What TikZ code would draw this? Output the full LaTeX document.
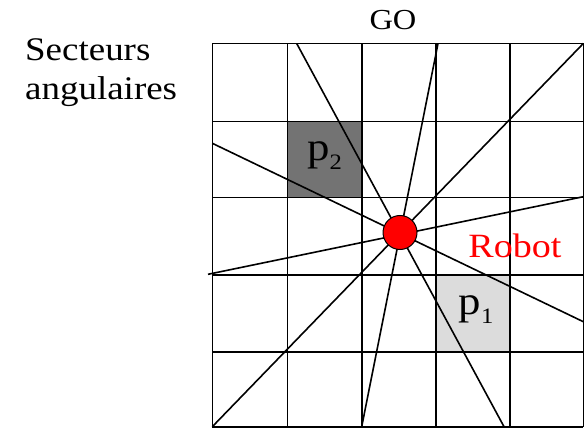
\documentclass[tikz,border=0pt]{standalone}
\usepackage{fontspec}
\setmainfont{LiberationSerif}[Extension=.ttf, UprightFont=*-Regular, BoldFont=*-Bold]
\newfontfamily\widefont{LiberationSerif}[Extension=.ttf, UprightFont=*-Regular, FakeStretch=1.12]
\definecolor{darkcell}{HTML}{737373}
\definecolor{lightcell}{HTML}{DCDCDC}
\begin{document}
\begin{tikzpicture}[x=1pt,y=-1pt,
  gridline/.style={line width=1.6pt, black},
  ray/.style={line width=1.6pt, black},
  robotdot/.style={circle, draw=black, line width=1pt, fill=red, minimum size=34pt, inner sep=0pt},
  plabel/.style={inner sep=0pt, font=\widefont\fontsize{40}{40}\selectfont}]
\useasboundingbox (0,0) rectangle (586,430);
% shaded cells
\fill[darkcell] (287.3,121.7) rectangle (361.7,197.7);
\fill[lightcell] (436,275) rectangle (510,351.7);
% grid
\foreach \x in {212.3,287.3,361.7,436,510,583.3}
  \draw[gridline] (\x,43.5) -- (\x,426.7);
\foreach \y in {43.5,121.7,197.7,275,351.7,426.7}
  \draw[gridline] (212.3,\y) -- (583.3,\y);
% ray end points
\coordinate (a1) at (296.7,43.5);  \coordinate (a2) at (504,426.7);
\coordinate (b1) at (438,43.5);    \coordinate (b2) at (361.7,426.7);
\coordinate (c1) at (583.3,43.5);  \coordinate (c2) at (212.3,426.7);
\coordinate (d1) at (212.3,143.3); \coordinate (d2) at (583.3,321.7);
\coordinate (e1) at (208,274.3);   \coordinate (e2) at (583.3,196.7);
\draw[ray] (a1) -- (a2);
\draw[ray] (b1) -- (b2);
\draw[ray] (c1) -- (c2);
\draw[ray] (d1) -- (d2);
\draw[ray] (e1) -- (e2);
% robot
\node[robotdot] (robot) at (400,232.5) {};
% labels
\node[plabel] (p2) at (324.5,156) {p\raisebox{-9pt}{\fontsize{22}{22}\selectfont 2}};
\node[plabel] (p1) at (476,310) {p\raisebox{-9pt}{\fontsize{22}{22}\selectfont 1}};
\node[anchor=base, font=\widefont\fontsize{29}{29}\selectfont] (go) at (393,30) {GO};
\node[anchor=base, text=red, font=\widefont\fontsize{34}{34}\selectfont] (robotlabel) at (515,258) {Robot};
\node[anchor=base west, align=left, inner sep=0pt, font=\widefont\fontsize{33}{39}\selectfont] (secteurs) at (25,100) {Secteurs\\angulaires};
\end{tikzpicture}
\end{document}
